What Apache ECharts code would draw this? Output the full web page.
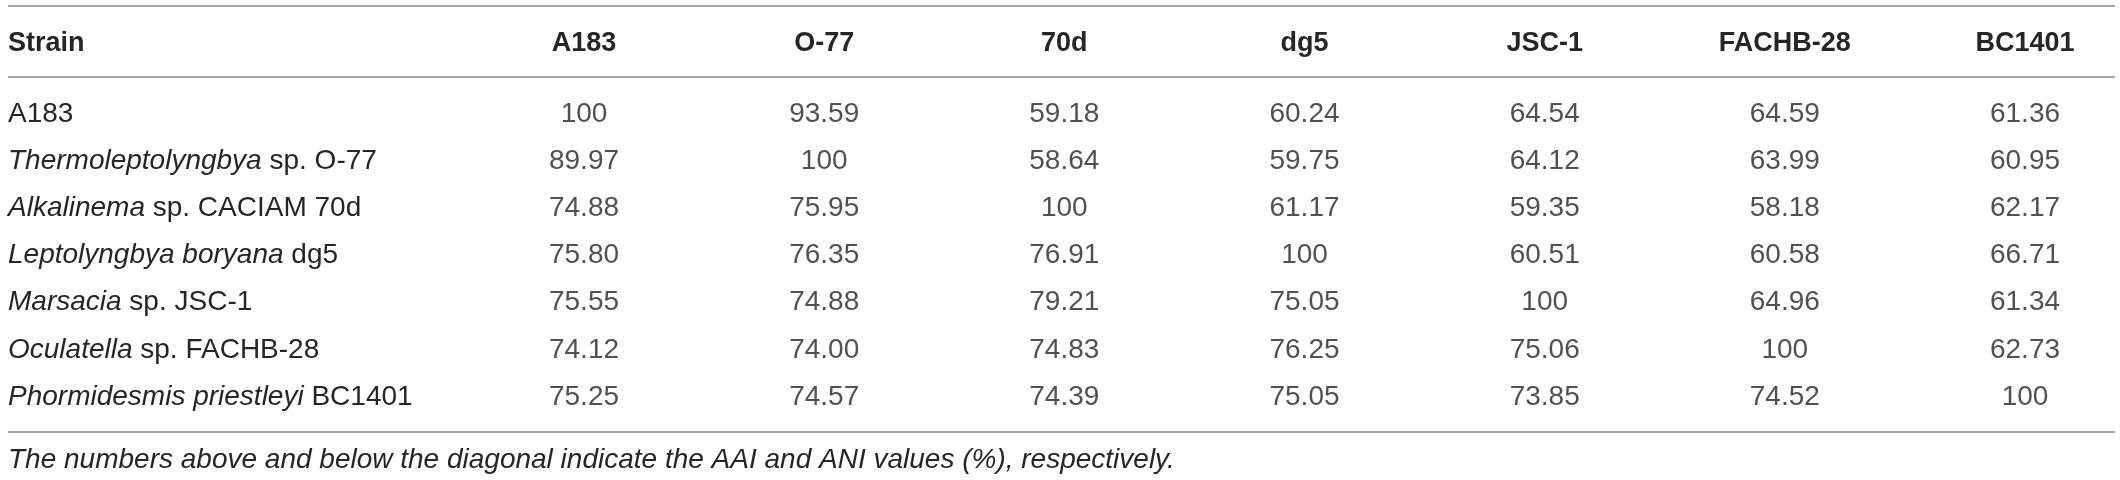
<!DOCTYPE html>
<html>
<head>
<meta charset="utf-8">
<script src="https://cdn.jsdelivr.net/npm/echarts@6/dist/echarts.min.js"></script>
<style>
  html, body { margin: 0; padding: 0; background: #fff; }
  #main { width: 2120px; height: 480px; }
</style>
</head>
<body>
<div id="main"></div>
<script>
// 列名(表头)
let columns = ['A183', 'O-77', '70d', 'dg5', 'JSC-1', 'FACHB-28', 'BC1401'];
// 行名(菌株)
let strains = [
    'A183',
    'Thermoleptolyngbya sp. O-77',
    'Alkalinema sp. CACIAM 70d',
    'Leptolyngbya boryana dg5',
    'Marsacia sp. JSC-1',
    'Oculatella sp. FACHB-28',
    'Phormidesmis priestleyi BC1401'
];
// 行名中斜体的属名部分
let italicPart = ['', 'Thermoleptolyngbya', 'Alkalinema', 'Leptolyngbya boryana', 'Marsacia', 'Oculatella', 'Phormidesmis priestleyi'];
// 每一行的数值
let rowA183 = [100, 93.59, 59.18, 60.24, 64.54, 64.59, 61.36];
let rowO77 = [89.97, 100, 58.64, 59.75, 64.12, 63.99, 60.95];
let row70d = [74.88, 75.95, 100, 61.17, 59.35, 58.18, 62.17];
let rowDg5 = [75.80, 76.35, 76.91, 100, 60.51, 60.58, 66.71];
let rowJSC1 = [75.55, 74.88, 79.21, 75.05, 100, 64.96, 61.34];
let rowFACHB28 = [74.12, 74.00, 74.83, 76.25, 75.06, 100, 62.73];
let rowBC1401 = [75.25, 74.57, 74.39, 75.05, 73.85, 74.52, 100];
let rows = [rowA183, rowO77, row70d, rowDg5, rowJSC1, rowFACHB28, rowBC1401];

let headTitle = 'Strain';
let footNote = 'The numbers above and below the diagonal indicate the AAI and ANI values (%), respectively.';

// 把矩阵转成 [列, 行, 值]
let cells = [];
rows.forEach((row, r) => {
    row.forEach((v, c) => {
        cells.push([c, r, v]);
    });
});

let textColor = '#262626';
let ruleColor = '#a6a6a6';
let font = 'Liberation Sans';

// 表格横线
let rule = (y) => ({
    type: 'line',
    shape: { x1: 8, y1: y, x2: 2115, y2: y },
    style: { stroke: ruleColor, lineWidth: 2 }
});

let mychart = echarts.init(document.getElementById('main'));
let option = {
    backgroundColor: '#fff',
    animation: false,
    title: [
        {
            text: headTitle,
            left: 8,
            top: 30,
            padding: 0,
            textStyle: { fontFamily: font, fontSize: 27, fontWeight: 'bold', color: textColor }
        },
        {
            text: footNote,
            left: 8,
            top: 446,
            padding: 0,
            textStyle: { fontFamily: font, fontSize: 28, fontStyle: 'italic', fontWeight: 'normal', color: textColor }
        }
    ],
    grid: { left: 584, right: 95, top: 114, bottom: 83 },
    xAxis: {
        type: 'category',
        data: columns,
        position: 'top',
        boundaryGap: false,
        axisLine: { show: false },
        axisTick: { show: false },
        splitLine: { show: false },
        axisLabel: {
            interval: 0,
            margin: 70,
            verticalAlign: 'middle',
            fontFamily: font,
            fontSize: 27,
            fontWeight: 'bold',
            color: textColor
        }
    },
    yAxis: {
        type: 'category',
        data: strains,
        inverse: true,
        boundaryGap: false,
        axisLine: { show: false },
        axisTick: { show: false },
        splitLine: { show: false },
        axisLabel: {
            interval: 0,
            margin: 576,
            align: 'left',
            fontFamily: font,
            fontSize: 28,
            color: textColor,
            formatter: (name, i) => {
                let it = italicPart[i];
                if (!it) return name;
                return '{i|' + it + '}' + name.slice(it.length);
            },
            rich: {
                i: { fontFamily: font, fontSize: 28, fontStyle: 'italic', color: textColor }
            }
        }
    },
    series: [{
        type: 'scatter',
        data: cells,
        symbolSize: 0,
        label: {
            show: true,
            position: 'inside',
            fontFamily: font,
            fontSize: 28,
            color: textColor,
            formatter: (p) => {
                let v = p.value[2];
                return v === 100 ? '100' : v.toFixed(2);
            }
        }
    }],
    graphic: [rule(6), rule(77), rule(432)]
};
mychart.setOption(option);
</script>
</body>
</html>
